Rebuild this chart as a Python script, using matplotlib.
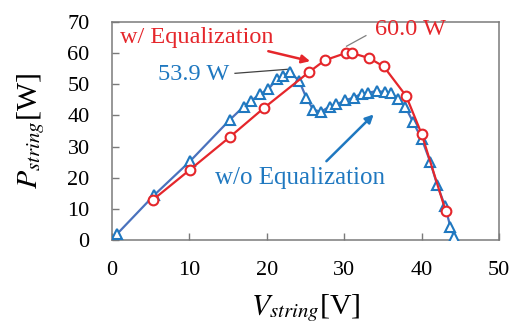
import matplotlib
matplotlib.use("Agg")
import matplotlib.pyplot as plt
import numpy as np

# Data
v_eq = [5.3, 10.1, 15.2, 19.6, 25.4, 27.5, 30.2, 31.0, 33.2, 35.1, 38.0, 40.0, 43.1]
p_eq = [12.9, 22.6, 33.0, 42.3, 53.8, 57.7, 60.0, 60.0, 58.4, 55.7, 46.2, 34.0, 9.3]

v_wo = [0.7, 5.5, 10.1, 15.2, 17.0, 18.0, 19.1, 20.2, 21.3, 22.1, 23.0, 24.2, 25.1,
        26.0, 27.0, 28.1, 29.0, 30.1, 31.2, 32.3, 33.1, 34.2, 35.3, 36.1, 37.0,
        37.9, 38.9, 40.0, 41.1, 42.0, 43.0, 43.7, 44.2]
p_wo = [2.0, 14.5, 25.3, 38.5, 42.8, 44.7, 46.8, 48.4, 51.6, 52.7, 53.9, 51.0, 45.7,
        41.8, 41.2, 42.8, 43.5, 44.8, 45.7, 47.0, 47.3, 47.8, 47.5, 47.1, 45.2,
        42.7, 37.8, 32.5, 25.1, 17.7, 11.0, 4.3, 1.0]

x_ticks = [0, 10, 20, 30, 40, 50]
y_ticks = [0, 10, 20, 30, 40, 50, 60, 70]

RED = "#e5262b"
BLUE_LINE = "#4a72bd"
BLUE = "#1f78c0"
SPINE = "#7a7a7a"

plt.rcParams["font.family"] = ["Liberation Serif", "DejaVu Serif"]
plt.rcParams["mathtext.fontset"] = "stix"

fig = plt.figure(figsize=(5.13, 3.32), dpi=100)
ax = fig.add_axes([0.218, 0.277, 0.755, 0.657])

ax.plot(v_wo, p_wo, color=BLUE_LINE, lw=1.6, marker="^", ms=7.5,
        mfc="white", mec=BLUE, mew=1.5, zorder=3)
ax.plot(v_eq, p_eq, color=RED, lw=1.6, marker="o", ms=7,
        mfc="white", mec=RED, mew=1.5, zorder=4)

ax.set_xlim(0, 50)
ax.set_ylim(0, 70)
ax.set_xticks(x_ticks)
ax.set_yticks(y_ticks)
ax.tick_params(direction="in", length=5, width=1, color=SPINE,
               labelsize=16)
ax.tick_params(axis="x", pad=15)
ax.tick_params(axis="y", pad=16)
for s in ax.spines.values():
    s.set_color(SPINE)
    s.set_linewidth(1.1)

ax.set_xlabel(r"$V_{string}$[V]", fontsize=21.5, labelpad=9)
ax.set_ylabel(r"$P_{string}$[W]", fontsize=21.5, labelpad=15)

# Annotations
ax.text(1.0, 65.0, "w/ Equalization", color=RED, fontsize=17.5,
        ha="left", va="center")
ax.annotate("", xy=(25.6, 57.4), xytext=(20.2, 60.6),
            arrowprops=dict(arrowstyle="-|>", color=RED, lw=1.8,
                            mutation_scale=12, shrinkA=0, shrinkB=0))

ax.text(34.0, 67.6, "60.0 W", color=RED, fontsize=17.5, ha="left", va="center")
ax.plot([30.3, 32.8], [62.2, 65.6], color="#808080", lw=0.9)

ax.text(5.9, 53.2, "53.9 W", color=BLUE, fontsize=17.5, ha="left", va="center")
ax.plot([15.9, 22.7], [53.5, 54.8], color="#404040", lw=0.9)

ax.text(13.3, 20.0, "w/o Equalization", color=BLUE, fontsize=18,
        ha="left", va="center")
ax.annotate("", xy=(33.8, 40.3), xytext=(27.7, 25.3),
            arrowprops=dict(arrowstyle="-|>", color=BLUE, lw=1.8,
                            mutation_scale=12, shrinkA=0, shrinkB=0))

fig.savefig("out.png", dpi=100)
